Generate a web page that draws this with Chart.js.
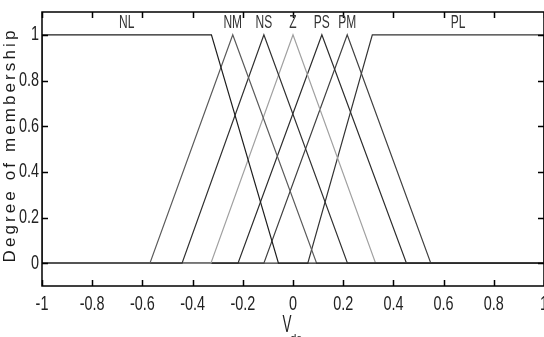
<!DOCTYPE html>
<html>
<head>
<meta charset="utf-8">
<script src="https://cdn.jsdelivr.net/npm/chart.js@4/dist/chart.umd.min.js"></script>
<style>
  html, body { margin: 0; padding: 0; background: #fff; }
  #wrap { width: 544px; height: 337px; }
</style>
</head>
<body>
<div id="wrap"><canvas id="mfChart"></canvas></div>
<script>
// membership functions: [a, b, c] triangles, [a, b, c, d] trapezoids
const mfNames = ['NL', 'NM', 'NS', 'Z', 'PS', 'PM', 'PL'];
const mfParams = [
  [-1, -1, -0.325, -0.058],
  [-0.57, -0.24, 0.094],
  [-0.442, -0.116, 0.217],
  [-0.327, 0, 0.329],
  [-0.219, 0.115, 0.452],
  [-0.116, 0.216, 0.549],
  [0.059, 0.316, 1, 1]
];
const mfColors = ['#1e1e1e', '#5a5a5a', '#303030', '#a0a0a0', '#2c2c2c', '#404040', '#333333'];
const xTicks = [-1, -0.8, -0.6, -0.4, -0.2, 0, 0.2, 0.4, 0.6, 0.8, 1];
const yTicks = [0, 0.2, 0.4, 0.6, 0.8, 1];
const xRange = [-1, 1];
const yRange = [-0.1, 1.1];

const FONT = "'Liberation Sans Narrow', 'Liberation Sans', sans-serif";

function mfPoints(p) {
  const pts = [{ x: xRange[0], y: 0 }];
  if (p.length === 3) {
    pts.push({ x: p[0], y: 0 }, { x: p[1], y: 1 }, { x: p[2], y: 0 });
  } else {
    pts.push({ x: p[0], y: 0 }, { x: p[1], y: 1 }, { x: p[2], y: 1 }, { x: p[3], y: 0 });
  }
  pts.push({ x: xRange[1], y: 0 });
  return pts;
}

function labelX(p) {
  return p.length === 3 ? p[1] : (p[1] + p[2]) / 2;
}

const datasets = mfNames.map((name, i) => ({
  label: name,
  data: mfPoints(mfParams[i]),
  showLine: true,
  borderColor: mfColors[i],
  borderWidth: 1.2,
  pointRadius: 0,
  tension: 0
}));

// tall narrow text like the old matlab export
function tallText(ctx, str, x, y, size, sx, sy) {
  ctx.save();
  ctx.translate(x, y);
  ctx.scale(sx, sy);
  ctx.font = size + 'px ' + FONT;
  ctx.fillText(str, 0, 0);
  ctx.restore();
}

// matlab style box, inward ticks, tick labels, mf names and axis titles
const matlabFrame = {
  id: 'matlabFrame',
  afterDraw(chart) {
    const ctx = chart.ctx;
    const area = chart.chartArea;
    const xs = chart.scales.x;
    const ys = chart.scales.y;
    const tick = 6;

    ctx.save();
    ctx.strokeStyle = '#000';
    ctx.lineWidth = 1.5;
    ctx.strokeRect(area.left, area.top, area.right - area.left, area.bottom - area.top);

    ctx.beginPath();
    xTicks.forEach(v => {
      const px = Math.round(xs.getPixelForValue(v)) + 0.5;
      ctx.moveTo(px, area.bottom); ctx.lineTo(px, area.bottom - tick);
      ctx.moveTo(px, area.top); ctx.lineTo(px, area.top + tick);
    });
    yTicks.forEach(v => {
      const py = Math.round(ys.getPixelForValue(v)) + 0.5;
      ctx.moveTo(area.left, py); ctx.lineTo(area.left + tick, py);
      ctx.moveTo(area.right, py); ctx.lineTo(area.right - tick, py);
    });
    ctx.stroke();

    // tick labels
    ctx.fillStyle = '#222';
    ctx.textAlign = 'center';
    ctx.textBaseline = 'alphabetic';
    xTicks.forEach(v => {
      tallText(ctx, String(v), xs.getPixelForValue(v), area.bottom + 24, 16, 0.9, 1.25);
    });
    ctx.textAlign = 'right';
    ctx.textBaseline = 'middle';
    yTicks.forEach(v => {
      tallText(ctx, String(v), area.left - 3, ys.getPixelForValue(v), 16, 0.9, 1.25);
    });

    // mf names above each function
    ctx.fillStyle = '#333';
    ctx.textAlign = 'center';
    ctx.textBaseline = 'bottom';
    mfNames.forEach((name, i) => {
      tallText(ctx, name, xs.getPixelForValue(labelX(mfParams[i])), ys.getPixelForValue(1) - 3, 15, 0.8, 1.25);
    });

    // y title, letter spaced
    ctx.save();
    ctx.fillStyle = '#1a1a1a';
    ctx.font = '17px ' + FONT;
    ctx.letterSpacing = '3.1px';
    ctx.translate(10, (area.top + area.bottom) / 2 - 4);
    ctx.rotate(-Math.PI / 2);
    ctx.textAlign = 'center';
    ctx.textBaseline = 'middle';
    ctx.fillText('Degree of membership', 0, 0);
    ctx.restore();

    // x title with subscript
    const cx = (area.left + area.right) / 2;
    ctx.fillStyle = '#222';
    ctx.textAlign = 'center';
    ctx.textBaseline = 'alphabetic';
    tallText(ctx, 'V', cx - 6, 332, 15, 0.9, 1.55);
    ctx.font = '11px ' + FONT;
    ctx.fillText('dc', cx + 3, 342);
    ctx.restore();
  }
};

new Chart(document.getElementById('mfChart').getContext('2d'), {
  type: 'scatter',
  data: { datasets: datasets },
  options: {
    responsive: true,
    maintainAspectRatio: false,
    animation: false,
    layout: { padding: { top: 12, right: -2, bottom: 0, left: 0 } },
    plugins: {
      legend: { display: false },
      tooltip: { enabled: false }
    },
    scales: {
      x: {
        type: 'linear',
        min: xRange[0],
        max: xRange[1],
        afterBuildTicks: s => { s.ticks = xTicks.map(v => ({ value: v })); },
        afterFit: s => { s.height = 51; s.paddingLeft = 0; s.paddingRight = 0; },
        grid: { display: false, drawTicks: false },
        border: { display: false },
        ticks: { display: false }
      },
      y: {
        type: 'linear',
        min: yRange[0],
        max: yRange[1],
        afterBuildTicks: s => { s.ticks = yTicks.map(v => ({ value: v })); },
        afterFit: s => { s.width = 42; s.paddingTop = 0; s.paddingBottom = 0; },
        grid: { display: false, drawTicks: false },
        border: { display: false },
        ticks: { display: false }
      }
    }
  },
  plugins: [matlabFrame]
});
</script>
</body>
</html>
